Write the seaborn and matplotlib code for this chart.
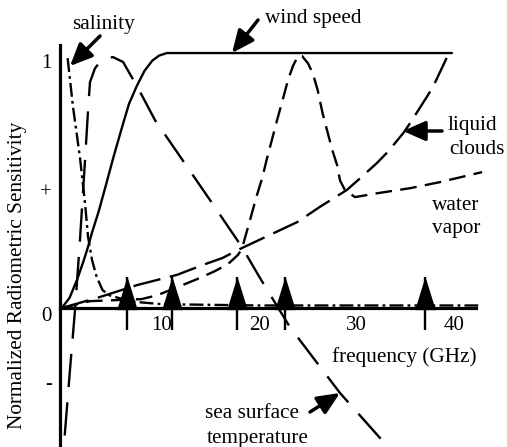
import matplotlib
matplotlib.use("Agg")
import matplotlib.pyplot as plt
import seaborn as sns

# ---------------- data ----------------
wind_f = [-0.3, 0.5, 1.26, 1.9, 2.4, 2.8, 3.5, 4.15, 5.0, 5.9, 6.6, 7.4, 8.2, 9.0, 9.7, 10.5, 39.8]
wind_v = [0.0, 0.04, 0.11, 0.18, 0.24, 0.295, 0.38, 0.47, 0.59, 0.71, 0.80, 0.87, 0.93, 0.97, 0.99, 1.0, 1.0]

sal_f = [0.3, 0.85, 1.57, 2.09, 2.4, 2.8, 3.3, 3.9, 4.6, 5.5, 7.0, 10.0, 20.0, 42.5]
sal_v = [0.98, 0.79, 0.59, 0.41, 0.28, 0.19, 0.12, 0.07, 0.05, 0.04, 0.025, 0.015, 0.01, 0.01]

sst_f = [0.0, 0.54, 1.06, 1.57, 2.09, 2.4, 2.6, 3.11, 3.63, 4.35, 4.96, 6.0, 7.53, 9.28,
         11.54, 15.14, 18.22, 20.07, 23.15, 28.29, 32.6]
sst_v = [-0.50, -0.243, -0.008, 0.267, 0.58, 0.776, 0.886, 0.94, 0.965, 0.98, 0.984, 0.965,
         0.863, 0.737, 0.612, 0.412, 0.239, 0.118, -0.075, -0.333, -0.518]

cld_f = [-0.3, 3.6, 7.44, 9.5, 11.54, 14.2, 16.2, 18.2, 20.6, 23.9, 26.2, 29.0, 30.4, 32.1,
         33.2, 34.8, 35.5, 37.2, 37.85, 39.3, 39.8]
cld_v = [0.0, 0.043, 0.09, 0.11, 0.13, 0.169, 0.196, 0.235, 0.278, 0.337, 0.396, 0.463, 0.51,
         0.569, 0.612, 0.686, 0.725, 0.827, 0.867, 0.984, 1.0]

vap_f = [-0.3, 2.6, 7.9, 9.5, 11.85, 13.9, 15.45, 16.8, 17.8, 18.2, 18.7, 19.25, 19.76, 20.3,
         20.8, 21.3, 21.8, 22.4, 22.95, 23.46, 23.97, 24.4, 25.0, 25.5, 26.0, 26.5, 26.96,
         27.5, 28.0, 28.3, 28.8, 29.84, 32.1, 35.5, 38.6, 42.9]
vap_v = [0.0, 0.027, 0.035, 0.05, 0.086, 0.118, 0.145, 0.173, 0.208, 0.231, 0.298, 0.373,
         0.443, 0.51, 0.588, 0.66, 0.733, 0.816, 0.894, 0.949, 0.988, 0.988, 0.96, 0.92,
         0.855, 0.765, 0.698, 0.62, 0.56, 0.50, 0.463, 0.435, 0.45, 0.47, 0.494, 0.533]

channel_f = [6.4, 11.0, 17.7, 22.6, 37.0]

x_ticks = [10, 20, 30, 40]
x_tick_labels = ["10", "20", "30", "40"]
y_tick_pos = [0.97, 0.46, -0.025, -0.29]
y_tick_labels = ["1", "+", "0", "-"]

# ---------------- style ----------------
sns.set_style("white")
plt.rcParams["font.family"] = ["Liberation Serif", "DejaVu Serif"]
plt.rcParams["lines.scale_dashes"] = False
plt.rcParams["text.color"] = "black"
plt.rcParams["xtick.color"] = "black"
plt.rcParams["ytick.color"] = "black"

W, H = 507, 447
fig = plt.figure(figsize=(W / 100, H / 100), dpi=100)
ax = fig.add_axes([0, 0, 1, 1])
ax.set_xlim(-6.65, 45.46)
ax.set_ylim(-0.545, 1.208)

LW = 1.7
series = [
    (wind_f, wind_v, "-"),
    (sal_f, sal_v, (0, (10, 3, 2, 3))),
    (sst_f, sst_v, (0, (24, 11))),
    (cld_f, cld_v, (0, (20, 7))),
    (vap_f, vap_v, (0, (12, 6))),
]
for f, v, ls in series:
    sns.lineplot(x=f, y=v, ax=ax, color="black", linewidth=LW, linestyle=ls,
                 sort=False, estimator=None, legend=False)

# channel markers (triangles with stems)
ax.vlines(channel_f, -0.086, 0.12, color="black", linewidth=1.7)
tri = [(-0.31, -0.5), (0.31, -0.5), (0.0, 0.5)]
sns.scatterplot(x=channel_f, y=[0.06] * len(channel_f), ax=ax, marker=tri, s=24 ** 2,
                color="black", linewidth=0, legend=False, zorder=5)

# axes
for s in ["top", "right"]:
    ax.spines[s].set_visible(False)
ax.spines["left"].set_position(("data", -0.45))
ax.spines["bottom"].set_position(("data", 0))
ax.spines["left"].set_bounds(-0.545, 1.03)
ax.spines["bottom"].set_bounds(-0.45, 42.3)
for s in ["left", "bottom"]:
    ax.spines[s].set_linewidth(2.3)
    ax.spines[s].set_color("black")
    ax.spines[s].set_zorder(6)

ax.set_xticks(x_ticks, x_tick_labels)
ax.tick_params(axis="x", direction="in", length=7, width=1.6, pad=6, labelsize=15)
ax.set_yticks(y_tick_pos, y_tick_labels)
ax.tick_params(axis="y", length=0, pad=6, labelsize=15)
ax.grid(False)

fig.text(18 / W, 1 - 275 / H, "Normalized Radiometric Sensitivity", rotation=90,
         ha="center", va="center", fontsize=15.3)

FS = 15.3
def label(x, y, s):
    fig.text(x / W, 1 - y / H, s, ha="left", va="baseline", fontsize=FS)

label(72, 29, "salinity")
label(265, 23, "wind speed")
label(448, 130, "liquid")
label(449, 154, "clouds")
label(432, 210, "water")
label(432, 233, "vapor")
label(332, 362, "frequency (GHz)")
label(205, 418, "sea surface")
label(207, 443, "temperature")

aprops = dict(arrowstyle="-|>,head_length=0.9,head_width=0.4", mutation_scale=15,
              lw=2.5, color="black", shrinkA=0, shrinkB=0)
def arrow(tail, tip):
    ax.annotate("", xy=(tip[0], H - tip[1]), xytext=(tail[0], H - tail[1]),
                xycoords="figure pixels", textcoords="figure pixels", arrowprops=aprops)

arrow((100, 36), (70, 66))
arrow((258, 20), (232, 53))
arrow((442, 131), (403, 131))
arrow((310, 412), (340, 393))

fig.savefig("out.png", dpi=100)
